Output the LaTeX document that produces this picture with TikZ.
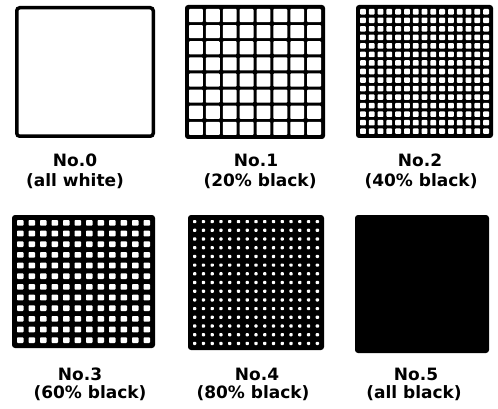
\documentclass[tikz,border=0pt]{standalone}
\usepackage{fontspec}
\setmainfont{DejaVu Sans}
\usetikzlibrary{positioning}

% white holes cut into a black square node: node, cells, width, height, border, bar
\newcommand\holes[6]{%
  \pgfmathsetmacro\hx{(#3-2*#5-(#2-1)*#6)/#2}
  \pgfmathsetmacro\hy{(#4-2*#5-(#2-1)*#6)/#2}
  \foreach \i in {1,...,#2} \foreach \j in {1,...,#2}
    \fill[white,rounded corners=0.8pt] ([shift={({#5+(\i-1)*(\hx+#6)},{#5+(\j-1)*(\hy+#6)})}]#1.north west) rectangle ++(\hx,\hy);
}

\begin{document}
\begin{tikzpicture}[x=1pt,y=-1pt,
  sq/.style={fill=black,rounded corners=3pt,inner sep=0pt,outer sep=0pt},
  lab/.style={font=\fontsize{17}{20}\selectfont\bfseries,inner sep=0pt}]
\useasboundingbox (0,0) rectangle (498,409);
\node[draw,line width=3.5pt,rounded corners=3pt,inner sep=0pt,outer sep=0pt,minimum width=136.5pt,minimum height=128.5pt] (s0) at (85,72) {};
\node[sq,minimum width=140pt,minimum height=134pt] (s1) at (255,72) {};
\node[sq,minimum width=137pt,minimum height=133pt] (s2) at (424.5,71.5) {};
\node[sq,minimum width=143pt,minimum height=133pt] (s3) at (83.5,281.5) {};
\node[sq,minimum width=136pt,minimum height=135pt] (s4) at (256,282.5) {};
\node[sq,minimum width=134pt,minimum height=138pt] (s5) at (422,284) {};
\holes{s1}{8}{140}{134}{4}{3}
\holes{s2}{15}{137}{133}{4}{3}
\holes{s3}{12}{143}{133}{5}{5}
\holes{s4}{15}{136}{135}{5}{5.5}
\node[lab] (n0) at (75,160) {No.0};
\node[lab] (t0) at (75,181) {(all white)};
\node[lab] (n1) at (256,160) {No.1};
\node[lab] (t1) at (260,181) {(20\% black)};
\node[lab] (n2) at (420,160) {No.2};
\node[lab] (t2) at (421,181) {(40\% black)};
\node[lab] (n3) at (80,374) {No.3};
\node[lab] (t3) at (90,393) {(60\% black)};
\node[lab] (n4) at (257,374) {No.4};
\node[lab] (t4) at (253,393) {(80\% black)};
\node[lab] (n5) at (416,374) {No.5};
\node[lab] (t5) at (414,393) {(all black)};
\end{tikzpicture}
\end{document}
